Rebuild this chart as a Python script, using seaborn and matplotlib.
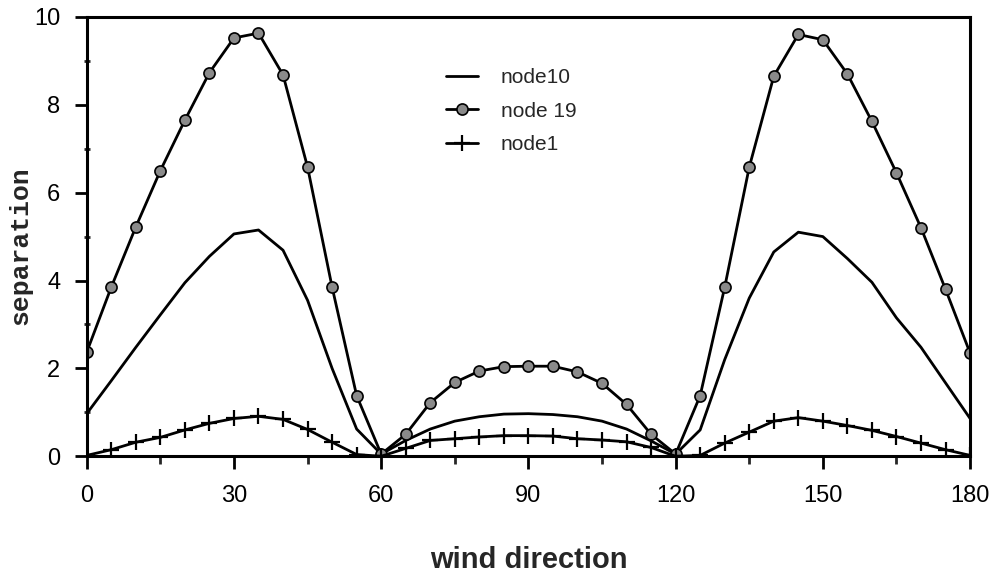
import matplotlib
matplotlib.use("Agg")
import matplotlib.pyplot as plt
import seaborn as sns
from matplotlib.ticker import MultipleLocator

angle = [0, 5, 10, 15, 20, 25, 30, 35, 40, 45, 50, 55, 60,
         65, 70, 75, 80, 85, 90, 95, 100, 105, 110, 115, 120,
         125, 130, 135, 140, 145, 150, 155, 160, 165, 170, 175, 180]

node10 = [0.97, 1.72, 2.48, 3.22, 3.95, 4.55, 5.06, 5.15, 4.69, 3.55, 2.0, 0.62, 0.05,
          0.36, 0.62, 0.8, 0.9, 0.96, 0.97, 0.95, 0.9, 0.8, 0.62, 0.35, 0.05,
          0.6, 2.2, 3.6, 4.65, 5.1, 5.0, 4.5, 3.96, 3.15, 2.48, 1.67, 0.86]

node19 = [2.37, 3.85, 5.22, 6.5, 7.65, 8.73, 9.52, 9.63, 8.68, 6.58, 3.85, 1.38, 0.05,
          0.5, 1.22, 1.68, 1.94, 2.04, 2.05, 2.05, 1.92, 1.66, 1.18, 0.5, 0.05,
          1.38, 3.85, 6.58, 8.65, 9.6, 9.48, 8.7, 7.62, 6.45, 5.2, 3.8, 2.35]

node1 = [0.02, 0.15, 0.32, 0.43, 0.6, 0.75, 0.86, 0.91, 0.84, 0.61, 0.32, 0.04, 0.0,
         0.18, 0.36, 0.4, 0.44, 0.47, 0.47, 0.46, 0.4, 0.37, 0.33, 0.2, 0.0,
         0.02, 0.3, 0.55, 0.8, 0.88, 0.8, 0.7, 0.59, 0.45, 0.3, 0.15, 0.02]

x_ticks = [0, 30, 60, 90, 120, 150, 180]
y_ticks = [0, 2, 4, 6, 8, 10]

sns.set_style("ticks")
plt.rcParams["font.family"] = ["Liberation Sans", "DejaVu Sans"]

fig = plt.figure(figsize=(9.97, 5.82), dpi=100)
ax = fig.add_axes([0.087, 0.216, 0.886, 0.755])

lw = 2.0
sns.lineplot(x=angle, y=node10, ax=ax, color="black", linewidth=lw, label="node10")
sns.lineplot(x=angle, y=node19, ax=ax, color="black", linewidth=lw, marker="o",
             markersize=8, markerfacecolor="#8a8a8a", markeredgecolor="black",
             markeredgewidth=1.2, label="node 19")
sns.lineplot(x=angle, y=node1, ax=ax, color="black", linewidth=lw, marker="+",
             markersize=11, markeredgewidth=1.6, markeredgecolor="black", label="node1")

ax.set_xlim(0, 180)
ax.set_ylim(0, 10)
ax.set_xticks(x_ticks)
ax.set_yticks(y_ticks)
ax.xaxis.set_minor_locator(MultipleLocator(15))
ax.yaxis.set_minor_locator(MultipleLocator(1))
ax.tick_params(axis="both", which="major", direction="out", length=9, width=2,
               labelsize=17, color="black", labelcolor="black")
ax.tick_params(axis="x", which="minor", direction="out", length=6, width=2)
ax.tick_params(axis="y", which="minor", direction="inout", length=5, width=2)
ax.tick_params(axis="x", which="major", pad=12)
ax.tick_params(axis="y", which="major", pad=10)

for s in ax.spines.values():
    s.set_linewidth(2.2)
    s.set_color("black")

ax.set_xlabel("wind direction", fontsize=21, fontweight="bold")
ax.xaxis.set_label_coords(0.5, -0.205)
ax.set_ylabel("separation", fontsize=19, fontweight="bold",
              family=["Liberation Mono", "DejaVu Sans Mono"])
ax.yaxis.set_label_coords(-0.062, 0.48)

leg = ax.legend(loc="upper left", bbox_to_anchor=(0.386, 0.926), frameon=False,
                fontsize=15, handlelength=1.5, labelspacing=0.69, handletextpad=1.1)

fig.savefig("out.png", dpi=100, facecolor="white")
